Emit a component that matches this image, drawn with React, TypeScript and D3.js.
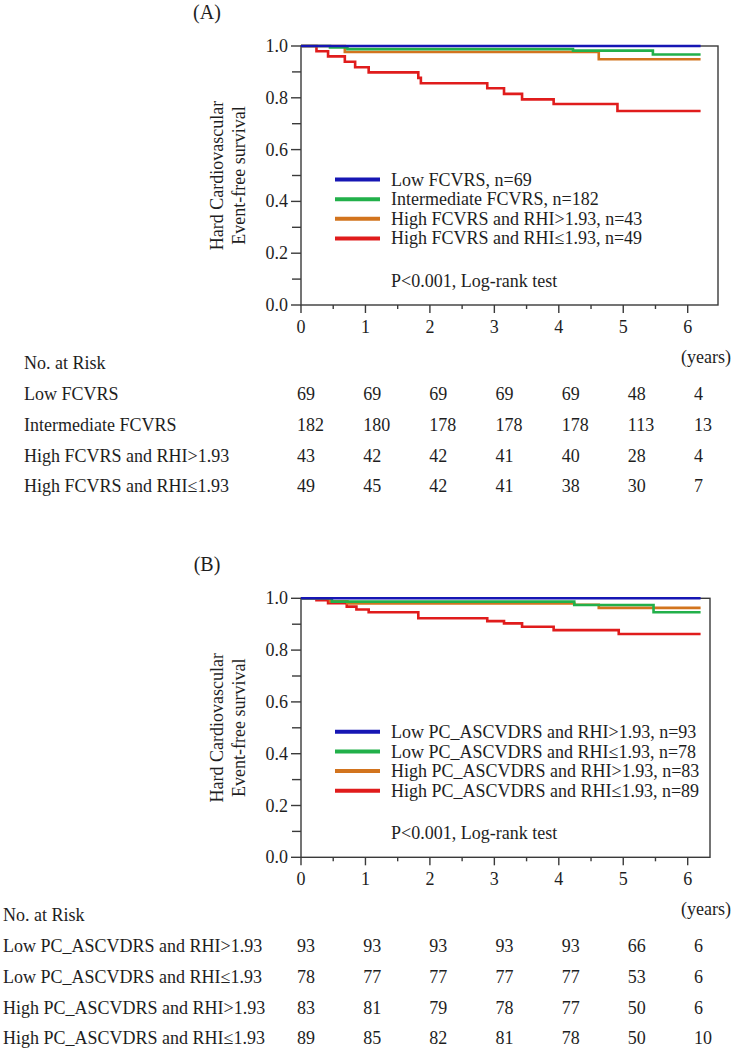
import React from "react";
import * as d3 from "d3";

type Pt = [number, number];

// ---------- Data ----------
const years = [0, 1, 2, 3, 4, 5, 6];
const yTicks = [0, 0.2, 0.4, 0.6, 0.8, 1.0];
const seriesColors = ["#1616b4", "#22b04a", "#d2741e", "#e01c1c"];

// Panel A Kaplan-Meier step points [time, survival]
const lowFCVRS: Pt[] = [[0, 1], [6.2, 1]];
const intermediateFCVRS: Pt[] = [[0, 1], [0.45, 0.994], [0.72, 0.988], [4.22, 0.982], [5.46, 0.967], [6.2, 0.967]];
const highFCVRSGood: Pt[] = [[0, 1], [0.68, 0.977], [4.62, 0.949], [6.2, 0.949]];
const highFCVRSBad: Pt[] = [[0, 1], [0.24, 0.98], [0.42, 0.96], [0.68, 0.939], [0.84, 0.918], [1.05, 0.898], [1.82, 0.877], [1.86, 0.856], [2.89, 0.837], [3.15, 0.815], [3.43, 0.794], [3.92, 0.776], [4.91, 0.749], [6.2, 0.749]];

const legendA = ["Low FCVRS, n=69", "Intermediate FCVRS, n=182", "High FCVRS and RHI>1.93, n=43", "High FCVRS and RHI\u22641.93, n=49"];
const riskNamesA = ["Low FCVRS", "Intermediate FCVRS", "High FCVRS and RHI>1.93", "High FCVRS and RHI\u22641.93"];
const riskLowA = [69, 69, 69, 69, 69, 48, 4];
const riskIntA = [182, 180, 178, 178, 178, 113, 13];
const riskHighGoodA = [43, 42, 42, 41, 40, 28, 4];
const riskHighBadA = [49, 45, 42, 41, 38, 30, 7];

// Panel B
const lowPCGood: Pt[] = [[0, 1], [6.2, 1]];
const lowPCBad: Pt[] = [[0, 1], [0.48, 0.987], [4.24, 0.974], [5.47, 0.946], [6.2, 0.946]];
const highPCGood: Pt[] = [[0, 1], [0.45, 0.988], [0.72, 0.98], [4.24, 0.975], [4.62, 0.963], [6.2, 0.963]];
const highPCBad: Pt[] = [[0, 1], [0.24, 0.993], [0.42, 0.981], [0.71, 0.968], [0.86, 0.957], [1.05, 0.946], [1.82, 0.923], [2.89, 0.912], [3.15, 0.903], [3.43, 0.89], [3.92, 0.877], [4.93, 0.862], [6.2, 0.862]];

const legendB = ["Low PC_ASCVDRS and RHI>1.93, n=93", "Low PC_ASCVDRS and RHI\u22641.93, n=78", "High PC_ASCVDRS and RHI>1.93, n=83", "High PC_ASCVDRS and RHI\u22641.93, n=89"];
const riskNamesB = ["Low PC_ASCVDRS and RHI>1.93", "Low PC_ASCVDRS and RHI\u22641.93", "High PC_ASCVDRS and RHI>1.93", "High PC_ASCVDRS and RHI\u22641.93"];
const riskLowGoodB = [93, 93, 93, 93, 93, 66, 6];
const riskLowBadB = [78, 77, 77, 77, 77, 53, 6];
const riskHighGoodB = [83, 81, 79, 78, 77, 50, 6];
const riskHighBadB = [89, 85, 82, 81, 78, 50, 10];

const FONT = "'Liberation Serif', 'Times New Roman', serif";
const TXT = "#1e1e1e";
const AX = "#3a3a3a";

type PanelProps = {
  off: number;
  title: string;
  series: Pt[][];
  legend: string[];
  riskNames: string[];
  risk: number[][];
  rightEdge: number;
  labelX: number;
};

function Panel({ off, title, series, legend, riskNames, risk, rightEdge, labelX }: PanelProps) {
  const x = d3.scaleLinear().domain([0, 6]).range([301, 687.7]);
  const y = d3.scaleLinear().domain([0, 1]).range([305 + off, 46 + off]);
  const tableX = d3.scaleLinear().domain([0, 6]).range([297, 694]);
  const line = d3.line<Pt>().x((d) => x(d[0])).y((d) => y(d[1])).curve(d3.curveStepAfter);
  const minorY = d3.range(1, 10, 2).map((v) => v / 10);
  const minorX = d3.range(0.5, 6.5, 1);
  const yMid = (y(0) + y(1)) / 2;
  const drawOrder = [3, 2, 1, 0];
  const legY = [179.5, 199.2, 218.8, 238.4].map((v) => v + off);
  const rowY = [394, 424.5, 455.5, 486].map((v) => v + off);
  return (
    <g fontFamily={FONT} fill={TXT}>
      <text x={207} y={12 + off} fontSize={20} textAnchor="middle" dominantBaseline="central">{title}</text>
      {/* frame */}
      <rect x={x(0)} y={y(1)} width={rightEdge - x(0)} height={y(0) - y(1)} fill="none" stroke={AX} strokeWidth={1.4} />
      {/* y ticks */}
      {yTicks.map((v) => (
        <g key={"yt" + v}>
          <line x1={x(0) - 10} x2={x(0)} y1={y(v)} y2={y(v)} stroke={AX} strokeWidth={1.4} />
          <text x={288} y={y(v)} fontSize={18} textAnchor="end" dominantBaseline="central">{v.toFixed(1)}</text>
        </g>
      ))}
      {minorY.map((v) => (
        <line key={"ym" + v} x1={x(0) - 9} x2={x(0)} y1={y(v)} y2={y(v)} stroke={AX} strokeWidth={1.4} />
      ))}
      {/* x ticks */}
      {years.map((t) => (
        <g key={"xt" + t}>
          <line x1={x(t)} x2={x(t)} y1={y(0)} y2={y(0) + 8} stroke={AX} strokeWidth={1.4} />
          <text x={x(t)} y={y(0) + 22} fontSize={18} textAnchor="middle" dominantBaseline="central">{t}</text>
        </g>
      ))}
      {minorX.map((t) => (
        <line key={"xm" + t} x1={x(t)} x2={x(t)} y1={y(0)} y2={y(0) + 4} stroke={AX} strokeWidth={1.4} />
      ))}
      {/* y label */}
      <text transform={`translate(${217},${yMid}) rotate(-90)`} fontSize={18} textAnchor="middle" dominantBaseline="central">Hard Cardiovascular</text>
      <text transform={`translate(${239},${yMid}) rotate(-90)`} fontSize={18} textAnchor="middle" dominantBaseline="central">Event-free survival</text>
      {/* curves */}
      {drawOrder.map((i) => (
        <path key={"c" + i} d={line(series[i]) || ""} fill="none" stroke={seriesColors[i]} strokeWidth={2.6} />
      ))}
      {/* legend */}
      {legend.map((name, i) => (
        <g key={"lg" + i}>
          <line x1={335} x2={380} y1={legY[i]} y2={legY[i]} stroke={seriesColors[i]} strokeWidth={4} />
          <text x={391} y={legY[i]} fontSize={18} dominantBaseline="central">{name}</text>
        </g>
      ))}
      <text x={391} y={281 + off} fontSize={18} dominantBaseline="central">P&lt;0.001, Log-rank test</text>
      {/* risk table */}
      <text x={labelX} y={362.5 + off} fontSize={18} dominantBaseline="central">No. at Risk</text>
      <text x={731} y={356.5 + off} fontSize={18} textAnchor="end" dominantBaseline="central">(years)</text>
      {riskNames.map((name, i) => (
        <g key={"rk" + i}>
          <text x={labelX} y={rowY[i]} fontSize={18} dominantBaseline="central">{name}</text>
          {risk[i].map((n, j) => (
            <text key={j} x={tableX(years[j])} y={rowY[i]} fontSize={18} dominantBaseline="central">{n}</text>
          ))}
        </g>
      ))}
    </g>
  );
}

export default function App() {
  return (
    <svg width={734} height={1049} style={{ position: "absolute", left: 0, top: 0, background: "#fff" }}>
      <rect width={734} height={1049} fill="#fff" />
      <Panel
        off={0}
        title="(A)"
        series={[lowFCVRS, intermediateFCVRS, highFCVRSGood, highFCVRSBad]}
        legend={legendA}
        riskNames={riskNamesA}
        risk={[riskLowA, riskIntA, riskHighGoodA, riskHighBadA]}
        rightEdge={718}
        labelX={24}
      />
      <Panel
        off={552.3}
        title="(B)"
        series={[lowPCGood, lowPCBad, highPCGood, highPCBad]}
        legend={legendB}
        riskNames={riskNamesB}
        risk={[riskLowGoodB, riskLowBadB, riskHighGoodB, riskHighBadB]}
        rightEdge={710}
        labelX={3}
      />
    </svg>
  );
}
